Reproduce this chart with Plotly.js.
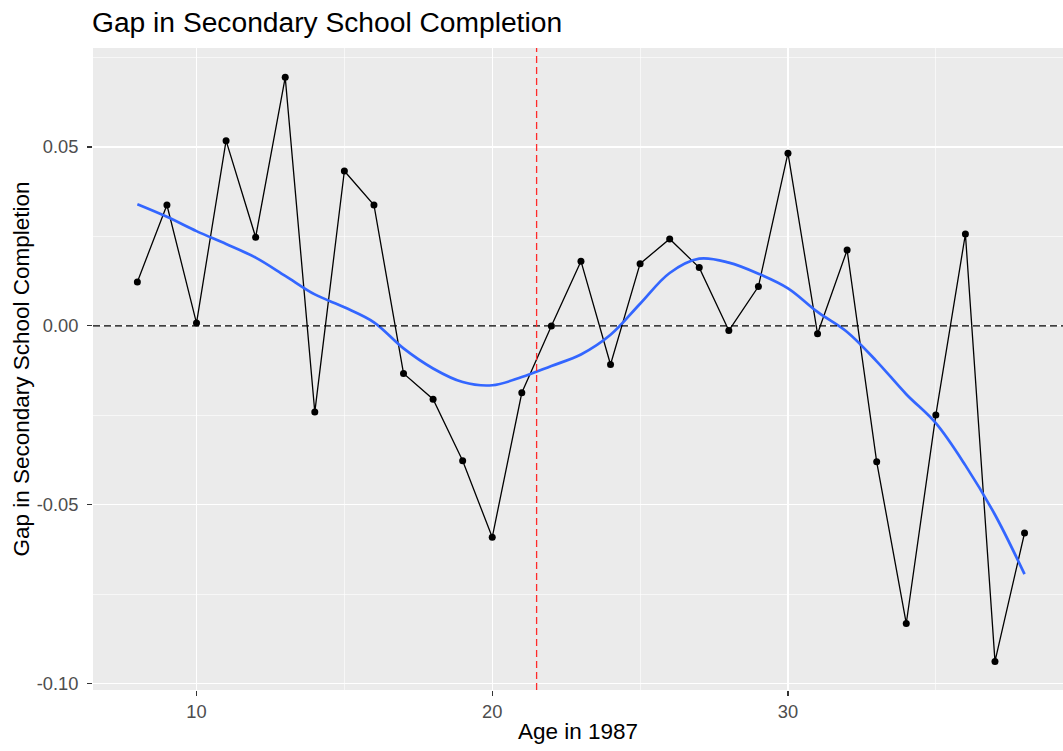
<!DOCTYPE html>
<html>
<head>
<meta charset="utf-8">
<script src="https://cdn.plot.ly/plotly-3.0.1.min.js"></script>
<style>html,body{margin:0;padding:0;background:#fff;}#chart{width:1063px;height:751px;}</style>
</head>
<body>
<div id="chart"></div>
<script>
const ages = [8,9,10,11,12,13,14,15,16,17,18,19,20,21,22,23,24,25,26,27,28,29,30,31,32,33,34,35,36,37,38];
const gap = [0.0123,0.0338,0.0008,0.0518,0.0248,0.0695,-0.0241,0.0433,0.0338,-0.0133,-0.0205,-0.0377,-0.0591,-0.0187,0.0000,0.0181,-0.0108,0.0174,0.0243,0.0163,-0.0013,0.0110,0.0483,-0.0022,0.0212,-0.0380,-0.0832,-0.0249,0.0257,-0.0938,-0.0579];
const smooth = [0.0340,0.0305,0.0265,0.0229,0.0191,0.0140,0.0088,0.0052,0.0010,-0.0063,-0.0119,-0.0157,-0.0166,-0.0143,-0.0112,-0.0080,-0.0025,0.0062,0.0148,0.0188,0.0177,0.0146,0.0105,0.0039,-0.0017,-0.0099,-0.0191,-0.0272,-0.0390,-0.0528,-0.0694];
const cutoffAge = [21.5];
const zeroLine = [0];
const xTicks = [10,20,30];
const xTickLabels = ["10","20","30"];
const yTicks = [-0.10,-0.05,0.00,0.05];
const yTickLabels = ["-0.10","-0.05","0.00","0.05"];

const FONT = 'Liberation Sans, Arial, sans-serif';

const traces = [
  {x: ages, y: gap, type: 'scatter', mode: 'lines+markers',
   line: {color: '#000000', width: 1.3},
   marker: {color: '#000000', size: 7}, hoverinfo: 'skip'},
  {x: ages, y: smooth, type: 'scatter', mode: 'lines',
   line: {color: '#3366FF', width: 2.7, shape: 'spline', smoothing: 1}, hoverinfo: 'skip'}
];

const shapes = [];
zeroLine.forEach(v => shapes.push({type: 'line', xref: 'paper', x0: 0, x1: 1, yref: 'y', y0: v, y1: v,
  line: {color: '#000000', width: 1.3, dash: '7px,4px'}, layer: 'above'}));
cutoffAge.forEach(v => shapes.push({type: 'line', xref: 'x', x0: v, x1: v, yref: 'paper', y0: 0, y1: 1,
  line: {color: '#FF2A2A', width: 1.3, dash: '7px,4px'}, layer: 'above'}));

const layout = {
  width: 1063, height: 751,
  margin: {l: 93, r: 0, t: 48, b: 61},
  paper_bgcolor: '#FFFFFF', plot_bgcolor: '#EBEBEB',
  showlegend: false,
  font: {family: FONT, color: '#000000'},
  title: {text: 'Gap in Secondary School Completion', x: 92/1063, xref: 'container', xanchor: 'left',
          y: 1 - 22.5/751, yref: 'container', yanchor: 'middle',
          font: {size: 28.2, color: '#000000', family: FONT}},
  xaxis: {range: [6.5, 39.3], tickvals: xTicks, ticktext: xTickLabels,
          showgrid: true, gridcolor: '#FFFFFF', gridwidth: 1.2, zeroline: false, showline: false,
          ticks: 'outside', ticklen: 5, tickcolor: '#333333', tickwidth: 1.2,
          tickfont: {size: 18.3, color: '#4D4D4D', family: FONT},
          minor: {tickvals: [5,15,25,35], showgrid: true, gridcolor: '#FFFFFF', gridwidth: 0.6, ticks: ''},
          title: {text: 'Age in 1987', font: {size: 22.5, color: '#000000', family: FONT}, standoff: 2}},
  yaxis: {range: [-0.1018, 0.0777], tickvals: yTicks, ticktext: yTickLabels,
          showgrid: true, gridcolor: '#FFFFFF', gridwidth: 1.2, zeroline: false, showline: false,
          ticks: 'outside', ticklen: 5, tickcolor: '#333333', tickwidth: 1.2, ticklabelstandoff: 5,
          tickfont: {size: 18.3, color: '#4D4D4D', family: FONT},
          minor: {tickvals: [-0.075,-0.025,0.025,0.075], showgrid: true, gridcolor: '#FFFFFF', gridwidth: 0.6, ticks: ''},
          title: {text: 'Gap in Secondary School Completion', font: {size: 22.5, color: '#000000', family: FONT}, standoff: 0}},
  shapes: shapes
};

Plotly.newPlot('chart', traces, layout, {staticPlot: true, displayModeBar: false});
</script>
</body>
</html>
